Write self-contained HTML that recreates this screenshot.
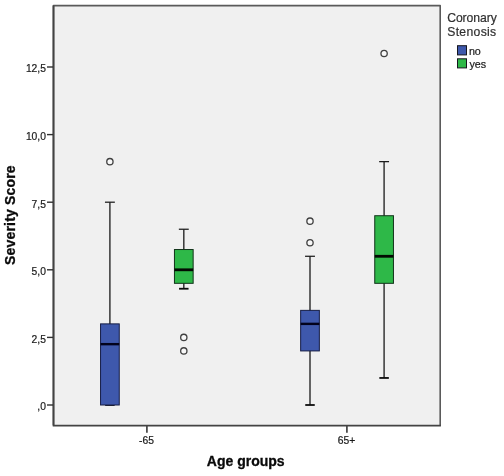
<!DOCTYPE html>
<html><head><meta charset="utf-8"><title>Boxplot</title>
<style>
html,body{margin:0;padding:0;background:#fff;}
svg{display:block;will-change:transform;}
text{font-family:"Liberation Sans",sans-serif;}
.t{font-size:10.3px;fill:#1a1a1a;stroke:#1a1a1a;stroke-width:0.2px;}
.ll{font-size:10.75px;}
.lt{font-size:12.2px;fill:#303030;stroke:#303030;stroke-width:0.2px;}
.b{font-size:14px;font-weight:bold;fill:#0a0a0a;stroke:#0a0a0a;stroke-width:0.3px;}
</style></head>
<body>
<svg width="504" height="476" viewBox="0 0 504 476">
<rect width="504" height="476" fill="#fff"/>
<rect x="53.5" y="5.5" width="386.6" height="420.2" fill="#f0f0f0"/>
<path d="M53.5 425 V5.6 H440.2 V425.7" fill="none" stroke="#5a5a5a" stroke-width="1.6" stroke-linejoin="round"/>
<path d="M53.5 5.6 V425.65 H440.9" fill="none" stroke="#434343" stroke-width="1.85" stroke-linejoin="round"/>
<line x1="47" y1="405.0" x2="53" y2="405.0" stroke="#303030" stroke-width="1.4"/>
<text x="45.95" y="409.7" text-anchor="end" class="t">,0</text>
<line x1="47" y1="337.4" x2="53" y2="337.4" stroke="#303030" stroke-width="1.4"/>
<text x="45.95" y="342.5" text-anchor="end" class="t">2,5</text>
<line x1="47" y1="269.8" x2="53" y2="269.8" stroke="#303030" stroke-width="1.4"/>
<text x="45.95" y="274.7" text-anchor="end" class="t">5,0</text>
<line x1="47" y1="202.2" x2="53" y2="202.2" stroke="#303030" stroke-width="1.4"/>
<text x="45.95" y="207.8" text-anchor="end" class="t">7,5</text>
<line x1="47" y1="134.6" x2="53" y2="134.6" stroke="#303030" stroke-width="1.4"/>
<text x="45.95" y="139.9" text-anchor="end" class="t">10,0</text>
<line x1="47" y1="67.0" x2="53" y2="67.0" stroke="#303030" stroke-width="1.4"/>
<text x="45.95" y="71.9" text-anchor="end" class="t">12,5</text>
<line x1="146.9" y1="426" x2="146.9" y2="432.7" stroke="#444" stroke-width="1.7"/>
<text x="146.5" y="443.8" text-anchor="middle" class="t">-65</text>
<line x1="346.9" y1="426" x2="346.9" y2="432.7" stroke="#444" stroke-width="1.7"/>
<text x="346.5" y="443.8" text-anchor="middle" class="t">65+</text>
<line x1="109.9" y1="202.2" x2="109.9" y2="405.0" stroke="#363636" stroke-width="1.5"/>
<line x1="104.95" y1="202.2" x2="114.85000000000001" y2="202.2" stroke="#1c1c1c" stroke-width="1.25"/>
<line x1="105.15" y1="405.0" x2="114.65" y2="405.0" stroke="#0c0c0c" stroke-width="1.8"/>
<rect x="100.55" y="323.88" width="18.7" height="81.12" fill="#3e58ac" stroke="#161d45" stroke-width="1"/>
<line x1="100.55" y1="344.16" x2="119.25" y2="344.16" stroke="#02021c" stroke-width="2.4"/>
<circle cx="109.9" cy="161.64" r="3.15" fill="#f8f8f8" stroke="#404040" stroke-width="1.3"/>
<line x1="183.8" y1="229.24" x2="183.8" y2="288.73" stroke="#363636" stroke-width="1.5"/>
<line x1="178.85000000000002" y1="229.24" x2="188.75" y2="229.24" stroke="#1c1c1c" stroke-width="1.25"/>
<line x1="179.05" y1="288.73" x2="188.55" y2="288.73" stroke="#0c0c0c" stroke-width="1.8"/>
<rect x="174.45" y="249.52" width="18.7" height="33.8" fill="#2eb848" stroke="#12331a" stroke-width="1"/>
<line x1="174.45" y1="269.8" x2="193.15" y2="269.8" stroke="#020a02" stroke-width="2.8"/>
<circle cx="183.8" cy="337.4" r="3.15" fill="#f8f8f8" stroke="#404040" stroke-width="1.3"/>
<circle cx="183.8" cy="350.92" r="3.15" fill="#f8f8f8" stroke="#404040" stroke-width="1.3"/>
<line x1="310.0" y1="256.28" x2="310.0" y2="405.0" stroke="#363636" stroke-width="1.5"/>
<line x1="305.05" y1="256.28" x2="314.95" y2="256.28" stroke="#1c1c1c" stroke-width="1.25"/>
<line x1="305.25" y1="405.0" x2="314.75" y2="405.0" stroke="#0c0c0c" stroke-width="1.8"/>
<rect x="300.65" y="310.36" width="18.7" height="40.56" fill="#3e58ac" stroke="#161d45" stroke-width="1"/>
<line x1="300.65" y1="323.88" x2="319.35" y2="323.88" stroke="#02021c" stroke-width="2.4"/>
<circle cx="310.0" cy="221.13" r="3.15" fill="#f8f8f8" stroke="#404040" stroke-width="1.3"/>
<circle cx="310.0" cy="242.76" r="3.15" fill="#f8f8f8" stroke="#404040" stroke-width="1.3"/>
<line x1="384.1" y1="161.64" x2="384.1" y2="377.96" stroke="#363636" stroke-width="1.5"/>
<line x1="379.15000000000003" y1="161.64" x2="389.05" y2="161.64" stroke="#1c1c1c" stroke-width="1.25"/>
<line x1="379.35" y1="377.96" x2="388.85" y2="377.96" stroke="#0c0c0c" stroke-width="1.8"/>
<rect x="374.75" y="215.72" width="18.7" height="67.6" fill="#2eb848" stroke="#12331a" stroke-width="1"/>
<line x1="374.75" y1="256.28" x2="393.45" y2="256.28" stroke="#020a02" stroke-width="2.8"/>
<circle cx="384.1" cy="53.48" r="3.15" fill="#f8f8f8" stroke="#404040" stroke-width="1.3"/>
<text x="447.2" y="22.3" class="lt" letter-spacing="-0.08">Coronary</text>
<text x="447.2" y="35.7" class="lt" letter-spacing="0.32">Stenosis</text>
<rect x="457.5" y="45.7" width="9" height="9.2" fill="#3e58ac" stroke="#16161e" stroke-width="1"/>
<rect x="457.5" y="58.8" width="9" height="9.1" fill="#2eb848" stroke="#16161e" stroke-width="1"/>
<text x="468.9" y="55.3" class="t ll">no</text>
<text x="469.45" y="68.0" class="t ll">yes</text>
<text x="245.7" y="466.3" text-anchor="middle" class="b">Age groups</text>
<text transform="translate(15.0 215.1) rotate(-90)" text-anchor="middle" class="b" letter-spacing="0.17">Severity Score</text>
</svg>
</body></html>
